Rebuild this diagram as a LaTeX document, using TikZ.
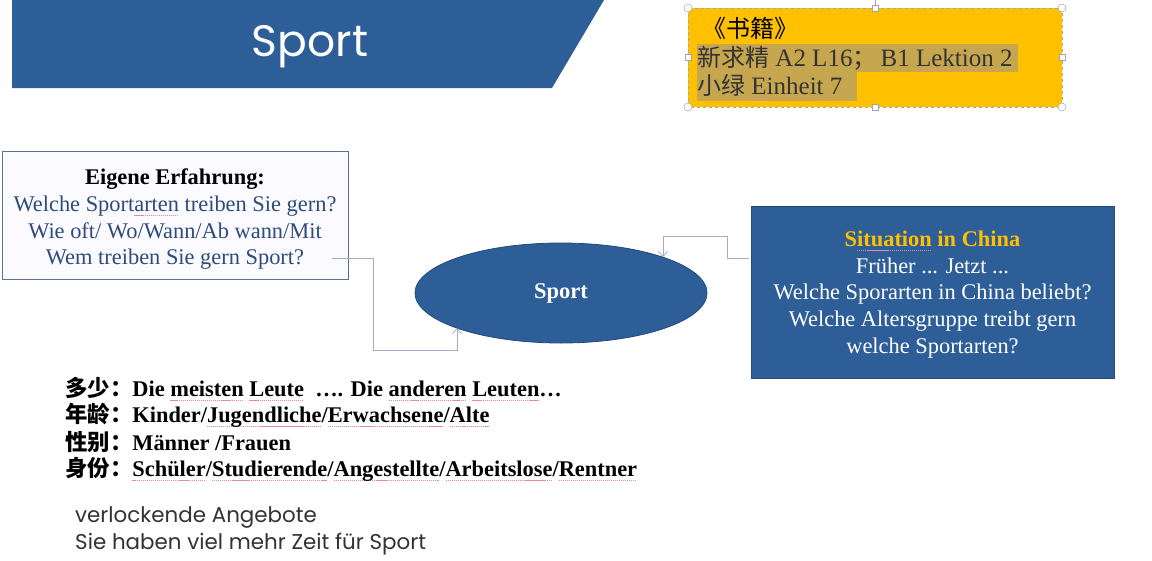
\documentclass[tikz,border=0pt]{standalone}
\usepackage{fontspec}
\setmainfont{Liberation Serif}
\newfontfamily\cjk{Noto Sans CJK SC}
\newfontfamily\gothic{Poppins}
\usetikzlibrary{shapes.geometric,arrows.meta}
\definecolor{slideblue}{HTML}{2E5E98}
\definecolor{slideedge}{HTML}{24497A}
\definecolor{gold}{HTML}{FFC000}
\definecolor{marker}{HTML}{C6A64E}
\definecolor{qblue}{HTML}{2F4B7C}
\definecolor{linkgray}{HTML}{A3ADCB}
\definecolor{ink}{HTML}{333333}
\definecolor{spell}{HTML}{E88A96}
% dotted spell-check mark under a word
\newsavebox\spellbox
\newcommand\spellmark[1]{\sbox\spellbox{#1}%
  \rlap{\raisebox{-4.2pt}{\color{spell}\hbox to \wd\spellbox{\xleaders\hbox to 2pt{\vrule width 1.2pt height 0.7pt\hfil}\hfill}}}%
  \usebox\spellbox}
\tikzset{
  boxtext/.style={align=center, font=\fontsize{22.4}{26.6}\selectfont, inner sep=0pt},
  link/.style={draw=linkgray, line width=0.8pt, -{Straight Barb[length=5pt,width=9pt]}},
  handle/.style={draw=gray!70, fill=white, line width=0.5pt},
  listline/.style={anchor=west, inner sep=0pt, font=\fontsize{22.4}{24}\selectfont\bfseries},
}
\begin{document}
\begin{tikzpicture}[x=1pt,y=-1pt]
\useasboundingbox (0,0) rectangle (1152,560);
\fill[white] (0,0) rectangle (1152,560);

% title banner
\fill[slideblue] (12,0) -- (604,0) -- (552,88) -- (12,88) -- cycle;
\node[text=white, font=\gothic\fontsize{44}{44}\selectfont] (title) at (310,47) {Sport};

% yellow note box with selection frame
\fill[gold] (688,8) rectangle (1062,107);
\fill[marker] (697,44) rectangle (1018,72);
\fill[marker] (697,72) rectangle (857,101);
\draw[gray!70, dashed, line width=0.6pt] (688,8) rectangle (1062,107);
\node[anchor=west, inner sep=0pt, text=black, font=\cjk\fontsize{24}{24}\selectfont] (books) at (702,28) {《书籍》};
\node[anchor=west, inner sep=0pt, text=ink, font=\fontsize{25}{25}\selectfont] (book1) at (697,58) {{\cjk\fontsize{24}{24}\selectfont 新求精} A2 L16{\cjk\fontsize{24}{24}\selectfont ；}\,B1 \spellmark{Lektion} 2};
\node[anchor=west, inner sep=0pt, text=ink, font=\fontsize{25}{25}\selectfont] (book2) at (697,87) {{\cjk\fontsize{24}{24}\selectfont 小绿} \spellmark{Einheit} 7};
\draw[gray!70, line width=0.5pt] (875,8) -- (875,0);
\foreach \p in {(688,8),(1062,8),(688,107),(1062,107)}
  \draw[handle] \p circle (4);
\foreach \p in {(875,8),(875,107),(688,57),(1062,57)}
  \draw[handle] \p ++(-3,-3) rectangle ++(6,6);

% left question box
\node[draw=qblue!80, fill=blue!2, line width=1pt, minimum width=346pt, minimum height=128pt,
      inner sep=0pt] (own) at (175,215) {};
\node[boxtext, text=qblue, anchor=north] (ownq) at (175,169) {%
  {\color{black}\bfseries Eigene Erfahrung:}\\
  Welche Sport\spellmark{arten} treiben Sie gern?\\
  Wie oft/ Wo/Wann/Ab wann/Mit\\
  Wem treiben Sie gern Sport?};

% central ellipse
\node[ellipse, draw=slideedge, fill=slideblue, line width=0.8pt, minimum width=292pt,
      minimum height=100pt, inner sep=0pt, text=white, font=\fontsize{22.5}{22.5}\selectfont\bfseries]
      (sport) at (561,293) {Sport};

% right situation box
\node[draw=slideedge, fill=slideblue, line width=1pt, minimum width=363pt, minimum height=172pt,
      inner sep=0pt] (china) at (932.5,292) {};
\node[boxtext, text=white, anchor=north] (chinaq) at (932.5,231) {%
  {\color{gold}\bfseries S\spellmark{ituation} in China}\\
  Früher ... Jetzt ...\\
  Welche Sporarten in China beliebt?\\
  Welche Altersgruppe treibt gern\\
  welche Sportarten?};

% connectors, ending on the ellipse outline
\coordinate (lstart) at (332,258);
\coordinate (rstart) at (749,258);
\coordinate (lend) at (457,328);
\coordinate (rend) at (663,257);
\draw[link] (lstart) -- (373,258) -- (373,350) -- (457,350) -- (lend);
\draw[link] (rstart) -- (727,258) -- (727,236) -- (663,236) -- (rend);

% attribute list
\node[listline] (l1) at (65,389) {{\cjk\bfseries 多少：}Die \spellmark{meisten} \spellmark{Leute} \ …. Die \spellmark{anderen} \spellmark{Leuten}…};
\node[listline] (l2) at (65,415) {{\cjk\bfseries 年龄：}Kinder/\spellmark{Jugendliche}/\spellmark{Erwachsene}/\spellmark{Alte}};
\node[listline] (l3) at (65,442) {{\cjk\bfseries 性别：}Männer /Frauen};
\node[listline] (l4) at (65,469) {{\cjk\bfseries 身份：}\spellmark{Schüler}/\spellmark{Studierende}/\spellmark{Angestellte}/\spellmark{Arbeitslose}/\spellmark{Rentner}};

% notes
\node[anchor=west, inner sep=0pt, text=ink, font=\gothic\fontsize{21.4}{27}\selectfont, align=left]
  (notes) at (75,531) {verlockende Angebote\\Sie haben viel mehr Zeit für Sport};
\end{tikzpicture}
\end{document}
